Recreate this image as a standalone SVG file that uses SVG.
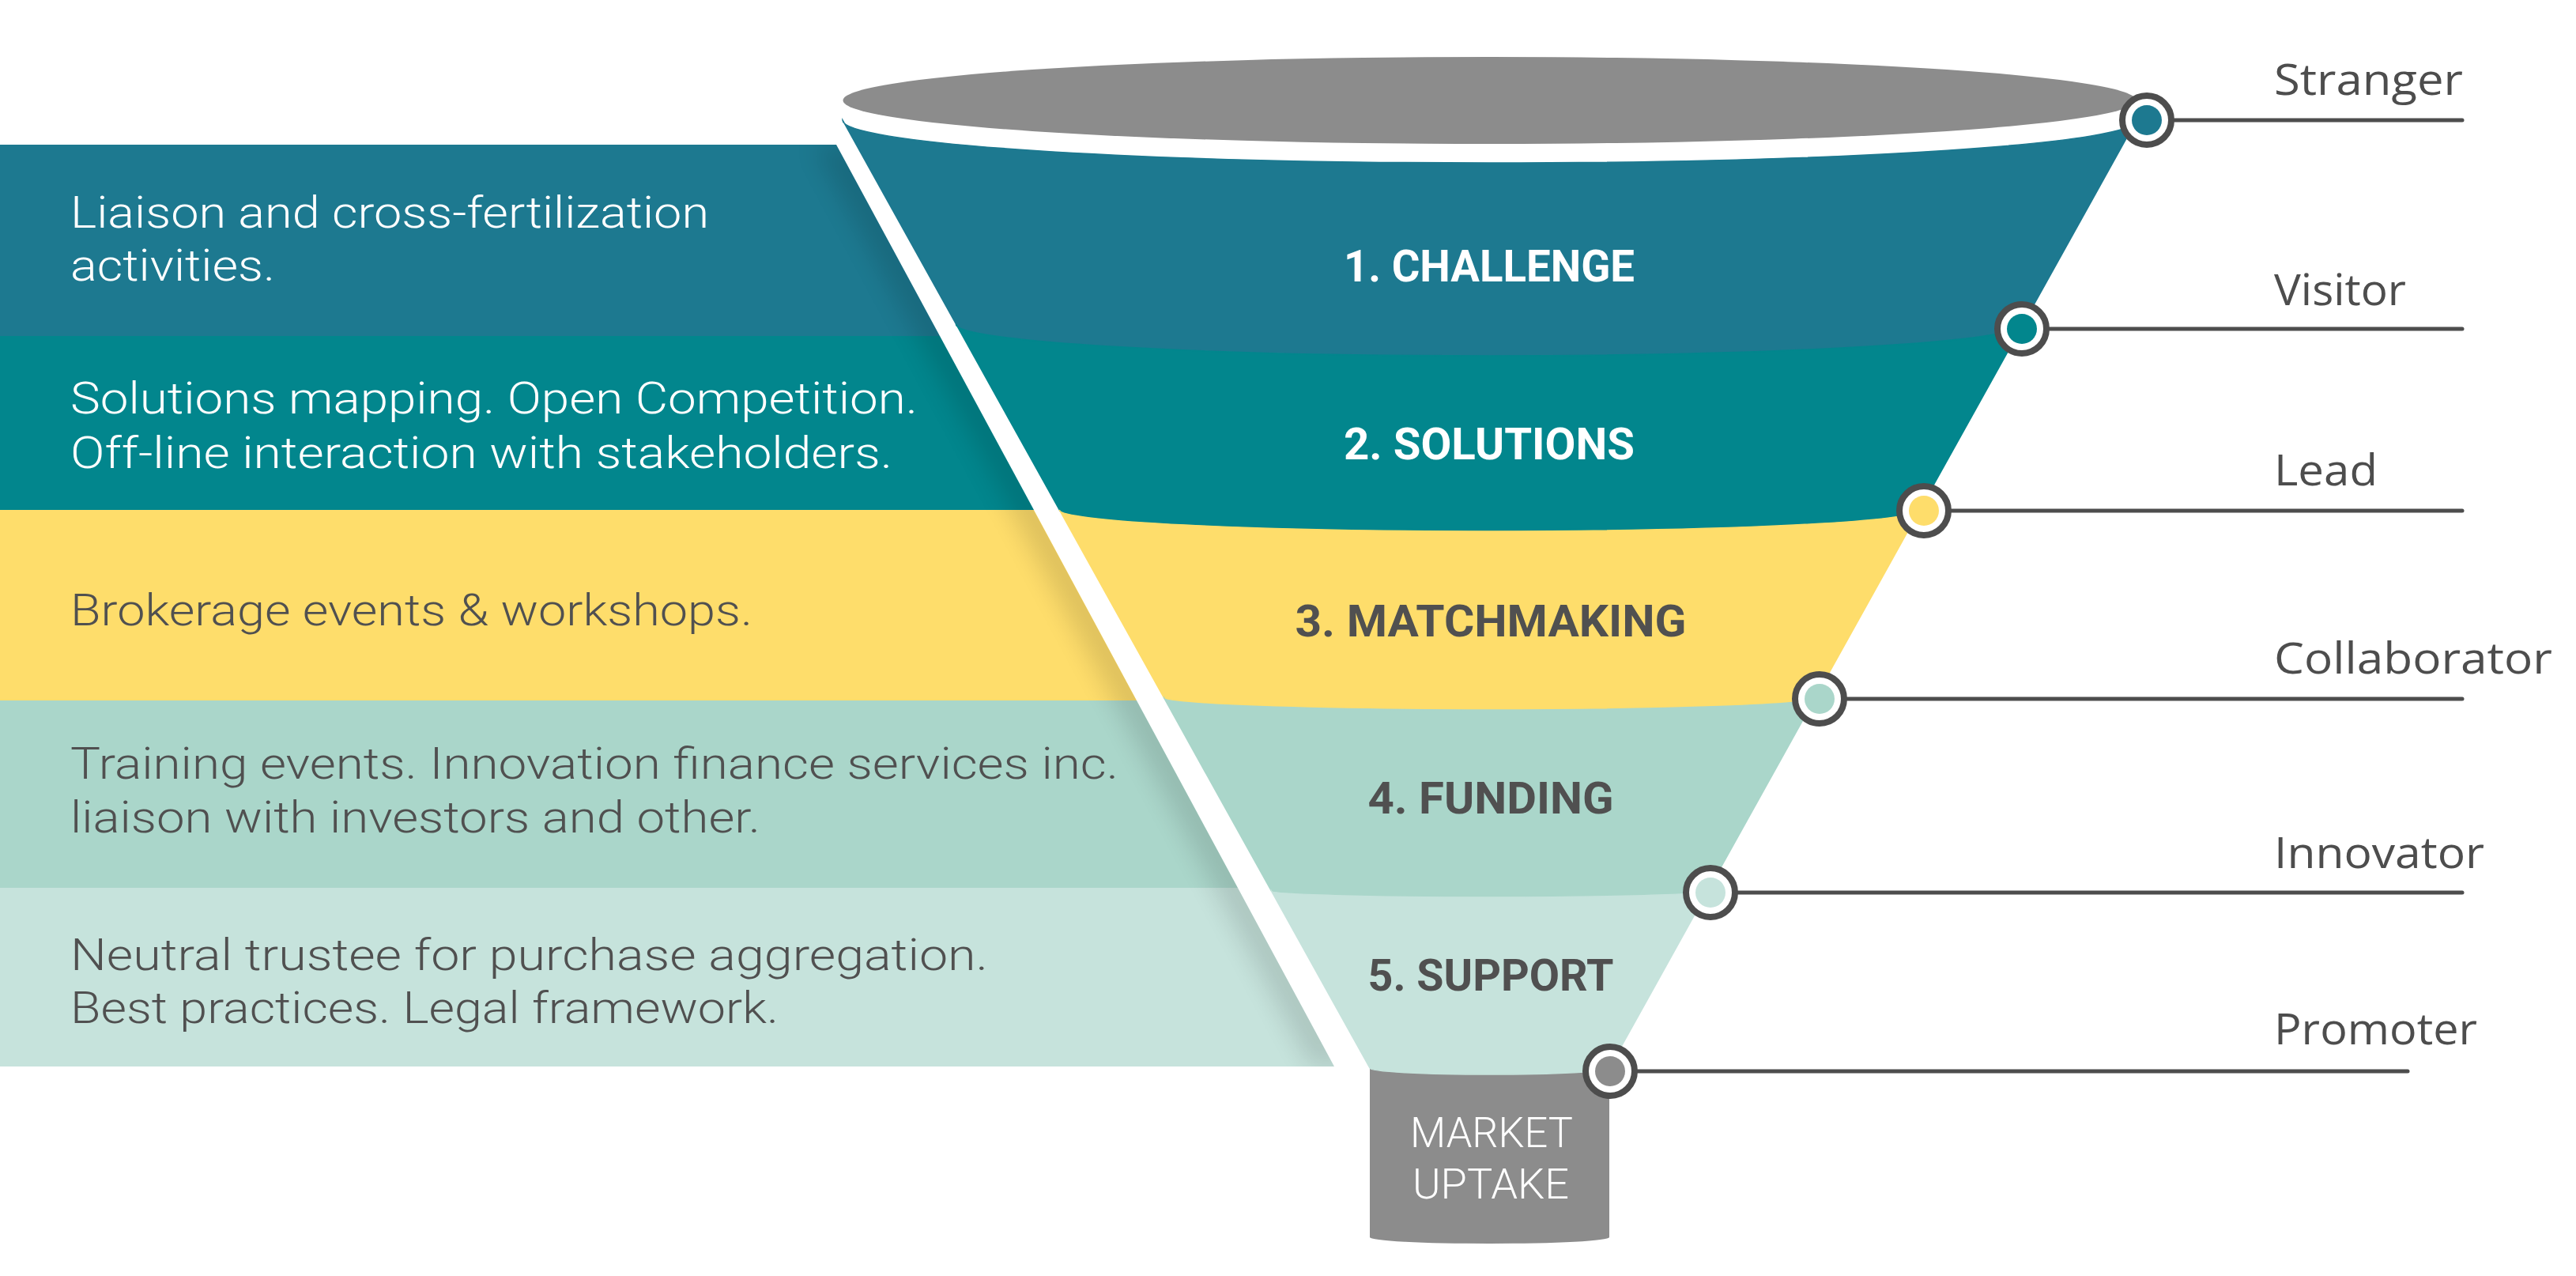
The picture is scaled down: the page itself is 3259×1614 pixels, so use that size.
<svg xmlns="http://www.w3.org/2000/svg" width="3259" height="1614" viewBox="0 0 3259 1614">
<defs>
<style>
.desc{font-family:"Roboto","Liberation Sans",sans-serif;font-size:56px;font-weight:300}
.w{fill:#ffffff}
.d{fill:#505050}
.stage{font-family:"Roboto","Open Sans","Liberation Sans",sans-serif;font-size:56px;font-weight:700;text-anchor:middle}
.role{font-family:"Open Sans","Liberation Sans",sans-serif;font-size:54px;fill:#4d4d4d}
.ring{fill:#ffffff;stroke:#4d4d4d;stroke-width:8}
.conn{stroke:#4d4d4d;stroke-width:5;stroke-linecap:round;fill:none}
.mk{font-family:"Roboto","Liberation Sans",sans-serif;font-size:54px;font-weight:300;fill:#ffffff;text-anchor:middle}
.c1{fill:#1d7990;stroke:#1d7990}
.c2{fill:#02868d;stroke:#02868d}
.c3{fill:#fedd6b;stroke:#fedd6b}
.c4{fill:#aad6ca;stroke:#aad6ca}
.c5{fill:#c6e3dc;stroke:#c6e3dc}
.band{stroke-width:1.5}
</style>
<filter id="sh" x="-50%" y="-10%" width="200%" height="120%"><feGaussianBlur stdDeviation="16"/></filter>
<clipPath id="panelClip"><polygon points="0,183 1058,183 1688,1349 0,1349"/></clipPath>
</defs>

<g id="panels">
  <g id="panel-1">
    <polygon class="c1" stroke-width="0" points="0,183 1058,183 1189,425 0,425"/>
    <text class="desc w" x="89" y="288" textLength="808" lengthAdjust="spacingAndGlyphs">Liaison and cross-fertilization</text>
    <text class="desc w" x="89" y="355" textLength="259" lengthAdjust="spacingAndGlyphs">activities.</text>
  </g>
  <g id="panel-2">
    <polygon class="c2" stroke-width="0" points="0,425 1189,425 1308,645 0,645"/>
    <text class="desc w" x="89" y="523" textLength="1072" lengthAdjust="spacingAndGlyphs">Solutions mapping. Open Competition.</text>
    <text class="desc w" x="89" y="592" textLength="1040" lengthAdjust="spacingAndGlyphs">Off-line interaction with stakeholders.</text>
  </g>
  <g id="panel-3">
    <polygon class="c3" stroke-width="0" points="0,645 1308,645 1438,886 0,886"/>
    <text class="desc d" x="89" y="791" textLength="863" lengthAdjust="spacingAndGlyphs">Brokerage events &amp; workshops.</text>
  </g>
  <g id="panel-4">
    <polygon class="c4" stroke-width="0" points="0,886 1438,886 1566,1123 0,1123"/>
    <text class="desc d" x="89" y="985" textLength="1326" lengthAdjust="spacingAndGlyphs">Training events. Innovation finance services inc.</text>
    <text class="desc d" x="89" y="1053" textLength="873" lengthAdjust="spacingAndGlyphs">liaison with investors and other.</text>
  </g>
  <g id="panel-5">
    <polygon class="c5" stroke-width="0" points="0,1123 1566,1123 1688,1349 0,1349"/>
    <text class="desc d" x="89" y="1227" textLength="1161" lengthAdjust="spacingAndGlyphs">Neutral trustee for purchase aggregation.</text>
    <text class="desc d" x="89" y="1294" textLength="896" lengthAdjust="spacingAndGlyphs">Best practices. Legal framework.</text>
  </g>
  <g clip-path="url(#panelClip)">
    <polygon points="1030,183 1080,183 1710,1349 1660,1349" fill="#000000" opacity="0.13" filter="url(#sh)"/>
  </g>
</g>

<g id="funnel">
  <ellipse id="funnel-rim" cx="1884.5" cy="127" rx="818" ry="55" fill="#8c8c8c"/>
  <g id="market-uptake">
    <path d="M1733,1351 L2036,1351 L2036,1565 A151.5,8 0 0 1 1733,1565 Z" fill="#8c8c8c"/>
    <text class="mk" x="1887" y="1451" textLength="206" lengthAdjust="spacingAndGlyphs">MARKET</text>
    <text class="mk" x="1886" y="1516" textLength="198" lengthAdjust="spacingAndGlyphs">UPTAKE</text>
  </g>
  <g id="stage-1">
    <path class="band c1" d="M1066,152 A818.5,54 0 0 0 2703,152 L2559.5,410 A675,40 0 0 1 1209.5,410 Z"/>
    <text class="stage w" x="1884" y="356" textLength="368" lengthAdjust="spacingAndGlyphs">1. CHALLENGE</text>
  </g>
  <g id="stage-2">
    <path class="band c2" d="M1209.5,410 A675,40 0 0 0 2559.5,410 L2428.7,645 A544.2,27 0 0 1 1340.3,645 Z"/>
    <text class="stage w" x="1884" y="581" textLength="368" lengthAdjust="spacingAndGlyphs">2. SOLUTIONS</text>
  </g>
  <g id="stage-3">
    <path class="band c3" d="M1340.3,645 A544.2,27 0 0 0 2428.7,645 L2296.3,883 A411.8,15 0 0 1 1472.7,883 Z"/>
    <text class="stage d" x="1886" y="805" textLength="495" lengthAdjust="spacingAndGlyphs">3. MATCHMAKING</text>
  </g>
  <g id="stage-4">
    <path class="band c4" d="M1472.7,883 A411.8,15 0 0 0 2296.3,883 L2160.6,1127 A276.1,8 0 0 1 1608.4,1127 Z"/>
    <text class="stage d" x="1886" y="1029" textLength="311" lengthAdjust="spacingAndGlyphs">4. FUNDING</text>
  </g>
  <g id="stage-5">
    <path class="band c5" d="M1608.4,1127 A276.1,8 0 0 0 2160.6,1127 L2036,1351 A151.5,8 0 0 1 1733,1351 Z"/>
    <text class="stage d" x="1886" y="1253" textLength="311" lengthAdjust="spacingAndGlyphs">5. SUPPORT</text>
  </g>
</g>

<g id="connectors">
  <line class="conn" x1="2751" y1="152" x2="3115" y2="152"/>
  <line class="conn" x1="2593" y1="416" x2="3115" y2="416"/>
  <line class="conn" x1="2469" y1="646" x2="3115" y2="646"/>
  <line class="conn" x1="2337" y1="884" x2="3115" y2="884"/>
  <line class="conn" x1="2199" y1="1129" x2="3115" y2="1129"/>
  <line class="conn" x1="2072" y1="1355" x2="3046" y2="1355"/>
</g>

<g id="roles">
  <g id="role-stranger">
    <circle class="ring" cx="2716" cy="152" r="31"/>
    <circle cx="2716" cy="152" r="19" fill="#1d7990"/>
    <text class="role" x="2877" y="120" textLength="239" lengthAdjust="spacingAndGlyphs">Stranger</text>
  </g>
  <g id="role-visitor">
    <circle class="ring" cx="2558" cy="416" r="31"/>
    <circle cx="2558" cy="416" r="19" fill="#02868d"/>
    <text class="role" x="2877" y="386" textLength="167" lengthAdjust="spacingAndGlyphs">Visitor</text>
  </g>
  <g id="role-lead">
    <circle class="ring" cx="2434" cy="646" r="31"/>
    <circle cx="2434" cy="646" r="19" fill="#fedd6b"/>
    <text class="role" x="2877" y="614" textLength="131" lengthAdjust="spacingAndGlyphs">Lead</text>
  </g>
  <g id="role-collaborator">
    <circle class="ring" cx="2302" cy="884" r="31"/>
    <circle cx="2302" cy="884" r="19" fill="#aad6ca"/>
    <text class="role" x="2877" y="852" textLength="352" lengthAdjust="spacingAndGlyphs">Collaborator</text>
  </g>
  <g id="role-innovator">
    <circle class="ring" cx="2164" cy="1129" r="31"/>
    <circle cx="2164" cy="1129" r="19" fill="#c6e3dc"/>
    <text class="role" x="2877" y="1098" textLength="266" lengthAdjust="spacingAndGlyphs">Innovator</text>
  </g>
  <g id="role-promoter">
    <circle class="ring" cx="2037" cy="1355" r="31"/>
    <circle cx="2037" cy="1355" r="19" fill="#8c8c8c"/>
    <text class="role" x="2877" y="1321" textLength="257" lengthAdjust="spacingAndGlyphs">Promoter</text>
  </g>
</g>
</svg>
